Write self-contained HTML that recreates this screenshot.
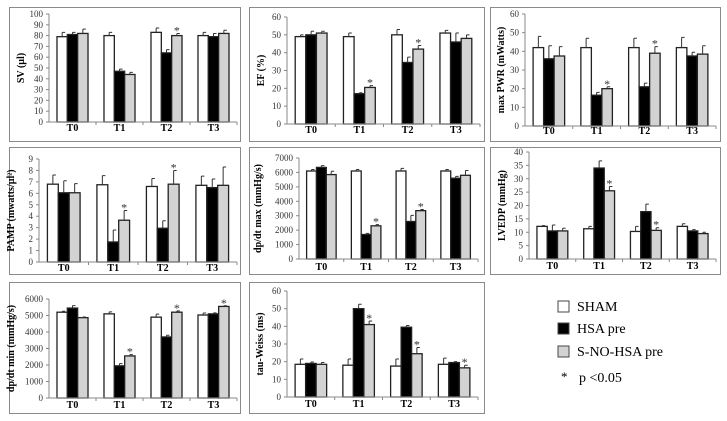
<!DOCTYPE html>
<html><head><meta charset="utf-8"><style>
html,body{margin:0;padding:0;background:#fff;}
svg{display:block;font-family:"Liberation Serif",serif;}
</style></head><body>
<svg id="fig" width="727" height="421" viewBox="0 0 727 421" xmlns="http://www.w3.org/2000/svg">
<g id="legend">
<rect x="558" y="301" width="11" height="11" fill="#fff" stroke="#444"/>
<text x="577" y="311" font-size="14">SHAM</text>
<rect x="558" y="323" width="11" height="11" fill="#000" stroke="#444"/>
<text x="577" y="333" font-size="14">HSA pre</text>
<rect x="558" y="346" width="11" height="11" fill="#d3d3d3" stroke="#444"/>
<text x="577" y="356" font-size="14">S-NO-HSA pre</text>
<text x="561" y="381" font-size="13">*</text>
<text x="579" y="382" font-size="14">p &lt;0.05</text>
</g>
</svg>
<script>
const categories = ["T0","T1","T2","T3"];
const seriesColors = ["#fff","#000","#d3d3d3"];

const svMean = [[79,81,82],[80,47,44],[83,64,80],[80,79,82]];
const svErr = [[4,2,4],[3,2,2],[4,3,2],[3,3,3]];
const svStars = [null,null,2,null];
const svTicks = [0,10,20,30,40,50,60,70,80,90,100];

const efMean = [[49,50,51],[49,17,20.5],[50,34.5,42],[51,46,48]];
const efErr = [[1,2,1],[2,0.5,1],[3,3,2],[1.5,5,2]];
const efStars = [null,2,2,null];
const efTicks = [0,10,20,30,40,50,60];

const pwrMean = [[42,36,37.5],[42,16.5,20],[42,21,39],[42,37.5,38.5]];
const pwrErr = [[6,7,5],[5,1.5,1],[5,2,3.5],[5.5,2,4.5]];
const pwrStars = [null,2,2,null];
const pwrTicks = [0,10,20,30,40,50,60];

const pampMean = [[6.8,6.05,6.05],[6.75,1.75,3.65],[6.6,2.95,6.8],[6.7,6.5,6.7]];
const pampErr = [[0.8,1.05,0.8],[0.8,1.05,0.85],[0.7,0.65,1.2],[0.8,0.75,1.6]];
const pampStars = [null,2,2,null];
const pampTicks = [0,1,2,3,4,5,6,7,8,9];

const dpmaxMean = [[6100,6350,5850],[6100,1700,2300],[6100,2600,3350],[6100,5600,5800]];
const dpmaxErr = [[100,120,230],[100,80,80],[180,420,80],[100,130,330]];
const dpmaxStars = [null,2,2,null];
const dpmaxTicks = [0,1000,2000,3000,4000,5000,6000,7000];

const lvedpMean = [[12.2,10.5,10.5],[11.3,34,25.5],[10.3,17.7,10.7],[12.2,10.5,9.5]];
const lvedpErr = [[0.3,2.2,1],[0.9,2.7,1.6],[1.9,2.8,1],[1,0.5,0.5]];
const lvedpStars = [null,2,2,null];
const lvedpTicks = [0,5,10,15,20,25,30,35,40];

const dpminMean = [[5200,5450,4870],[5100,1950,2550],[4900,3700,5200],[5030,5100,5550]];
const dpminErr = [[60,150,40],[120,130,80],[180,100,80],[120,60,40]];
const dpminStars = [null,2,2,2];
const dpminTicks = [0,1000,2000,3000,4000,5000,6000];

const tauMean = [[18.5,19,18.5],[18,50,41],[17.5,39.5,24.5],[18.5,19.5,16.5]];
const tauErr = [[3,0.8,1],[3.5,2.5,2],[4,1,3.5],[3.5,0.5,1.5]];
const tauStars = [null,2,2,2];
const tauTicks = [0,10,20,30,40,50,60];

const panels = [
 {name:"sv",title:"SV (µl)",mean:svMean,err:svErr,stars:svStars,ticks:svTicks,frame:[9,7,231,134],L:49,R:237,T:14,Z:122,cy:131,lx:24},
 {name:"ef",title:"EF (%)",mean:efMean,err:efErr,stars:efStars,ticks:efTicks,frame:[249,7,235,134],L:287,R:480,T:17,Z:124,cy:133,lx:264},
 {name:"max-pwr",title:"max PWR (mWatts)",mean:pwrMean,err:pwrErr,stars:pwrStars,ticks:pwrTicks,frame:[490,7,230,134],L:525,R:716,T:14,Z:126,cy:134,lx:504},
 {name:"pamp",title:"PAMP (mwatts/µl²)",mean:pampMean,err:pampErr,stars:pampStars,ticks:pampTicks,frame:[9,147,231,127],L:39,R:237,T:159,Z:262,cy:271,lx:14},
 {name:"dpdt-max",title:"dp/dt max (mmHg/s)",mean:dpmaxMean,err:dpmaxErr,stars:dpmaxStars,ticks:dpmaxTicks,frame:[249,147,235,127],L:299,R:478,T:158,Z:259,cy:270,lx:261},
 {name:"lvedp",title:"LVEDP (mmHg)",mean:lvedpMean,err:lvedpErr,stars:lvedpStars,ticks:lvedpTicks,frame:[490,147,230,127],L:529,R:716,T:152,Z:259,cy:269,lx:505},
 {name:"dpdt-min",title:"dp/dt min (mmHg/s)",mean:dpminMean,err:dpminErr,stars:dpminStars,ticks:dpminTicks,frame:[9,282,231,131],L:49,R:237,T:299,Z:398,cy:408,lx:14},
 {name:"tau-weiss",title:"tau-Weiss (ms)",mean:tauMean,err:tauErr,stars:tauStars,ticks:tauTicks,frame:[249,282,235,131],L:287,R:478,T:291,Z:397,cy:407,lx:263}
];
const NS="http://www.w3.org/2000/svg";
const fig=document.getElementById("fig");
function mk(tag,attrs,parent){const e=document.createElementNS(NS,tag);for(const k in attrs)e.setAttribute(k,attrs[k]);parent.appendChild(e);return e;}
panels.forEach(p=>{
 const g=mk("g",{},fig);
 
 
 const fr=mk("rect",{x:p.frame[0]+0.5,y:p.frame[1]+0.5,width:p.frame[2],height:p.frame[3],fill:"none",stroke:"#8a8a8a"},g);
 
 
 const ymax=p.ticks[p.ticks.length-1];
 const y=v=>p.Z-(v/ymax)*(p.Z-p.T);
 const gw=(p.R-p.L)/4, bw=gw*0.22;
 p.ticks.forEach(t=>{
  const yy=y(t);
  const tl=mk("line",{x1:p.L-3,x2:p.L,y1:yy,y2:yy,stroke:"#888"},g);
  
  
  const tx=mk("text",{x:p.L-6,y:yy+3,"font-size":9,"text-anchor":"end",fill:"#333"},g);
  tx.textContent=t;
  
  
 });
 const yl=mk("text",{x:p.lx,y:(p.T+p.Z)/2,"font-size":10,"font-weight":"bold","text-anchor":"middle",transform:`rotate(-90 ${p.lx} ${(p.T+p.Z)/2})`},g);
 yl.textContent=p.title;
 
 
 categories.forEach((c,i)=>{
  const cx=p.L+gw*(i+0.5);
  p.mean[i].forEach((v,s)=>{
   const x=cx-1.5*bw+s*bw;
   const b=mk("rect",{x:x,y:y(v),width:bw,height:p.Z-y(v),fill:seriesColors[s],stroke:"#222","stroke-width":1.3},g);
   
   
   const e=p.err[i][s], ex=x+bw/2, ye=y(v+e);
   const el=mk("path",{d:`M${ex} ${y(v)}V${ye}M${ex} ${ye}H${ex+3}`,stroke:"#333",fill:"none"},g);
   
   
   if(p.stars[i]===s){
    const st=mk("text",{x:ex,y:ye+1,"font-size":12,"text-anchor":"middle",fill:"#333"},g);
    st.textContent="*";
    
    
   }
  });
  const cl=mk("text",{x:cx,y:p.cy,"font-size":10,"font-weight":"bold","text-anchor":"middle"},g);
  cl.textContent=c;
  
  
  const sep=mk("line",{x1:p.L+gw*(i+1),x2:p.L+gw*(i+1),y1:p.Z,y2:p.Z+3,stroke:"#888"},g);
  
  
 });
 const ax=mk("line",{x1:p.L,x2:p.L,y1:p.T,y2:p.Z,stroke:"#888"},g);
 
 
 const xa=mk("line",{x1:p.L,x2:p.R,y1:p.Z,y2:p.Z,stroke:"#888"},g);
 
 
});
</script>
</body></html>
